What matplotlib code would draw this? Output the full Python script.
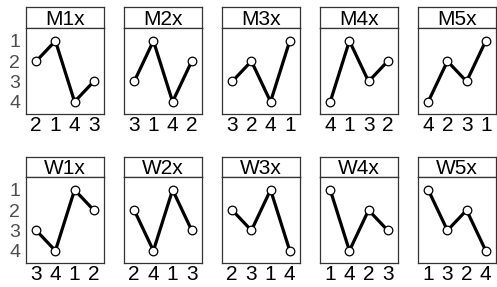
import matplotlib
matplotlib.use('Agg')
import matplotlib.pyplot as plt

plt.rcParams['font.family'] = ['Liberation Sans', 'DejaVu Sans']

# panel titles and the rank order shown in each panel
titles_m = ['M1x', 'M2x', 'M3x', 'M4x', 'M5x']
titles_w = ['W1x', 'W2x', 'W3x', 'W4x', 'W5x']
orders_m = [[2, 1, 4, 3], [3, 1, 4, 2], [3, 2, 4, 1], [4, 1, 3, 2], [4, 2, 3, 1]]
orders_w = [[3, 4, 1, 2], [2, 4, 1, 3], [2, 3, 1, 4], [1, 4, 2, 3], [1, 3, 2, 4]]
ranks = [1, 2, 3, 4]

W, H = 497, 287
fig = plt.figure(figsize=(W / 100, H / 100), dpi=100)

lefts = [25.7, 123.7, 221.7, 319.7, 417.7]
pw = 78.6
rows = [(7.3, 28.3, 114.3), (157.0, 177.3, 263.3)]
frame = '#333333'


def px(x0, y0, x1, y1):
    return [x0 / W, 1 - y1 / H, (x1 - x0) / W, (y1 - y0) / H]


for r, (titles, orders) in enumerate([(titles_m, orders_m), (titles_w, orders_w)]):
    top, mid, bot = rows[r]
    for c in range(5):
        x0 = lefts[c]
        # strip with the panel title
        sax = fig.add_axes(px(x0, top, x0 + pw, mid))
        sax.set_xticks([])
        sax.set_yticks([])
        sax.text(0.5, 0.42, titles[c], ha='center', va='center', fontsize=15,
                 transform=sax.transAxes)
        for s in sax.spines.values():
            s.set_color(frame)
            s.set_linewidth(0.9)

        ax = fig.add_axes(px(x0, mid, x0 + pw, bot))
        ax.plot(ranks, orders[c], color='black', lw=2.3, marker='o', ms=6.2,
                mfc='white', mec='black', mew=0.9)
        ax.set_xlim(0.45, 4.55)
        ax.set_ylim(4.62, 0.38)
        ax.set_xticks(ranks)
        ax.set_xticklabels([str(v) for v in orders[c]], fontsize=15, color='black')
        ax.tick_params(axis='x', length=0, pad=1.5)
        if c == 0:
            ax.set_yticks(ranks)
            ax.set_yticklabels([str(v) for v in ranks], fontsize=14, color='#4d4d4d')
            ax.tick_params(axis='y', length=0, pad=4)
        else:
            ax.set_yticks([])
        for s in ax.spines.values():
            s.set_color(frame)
            s.set_linewidth(0.9)

fig.savefig('out.png', dpi=100)
